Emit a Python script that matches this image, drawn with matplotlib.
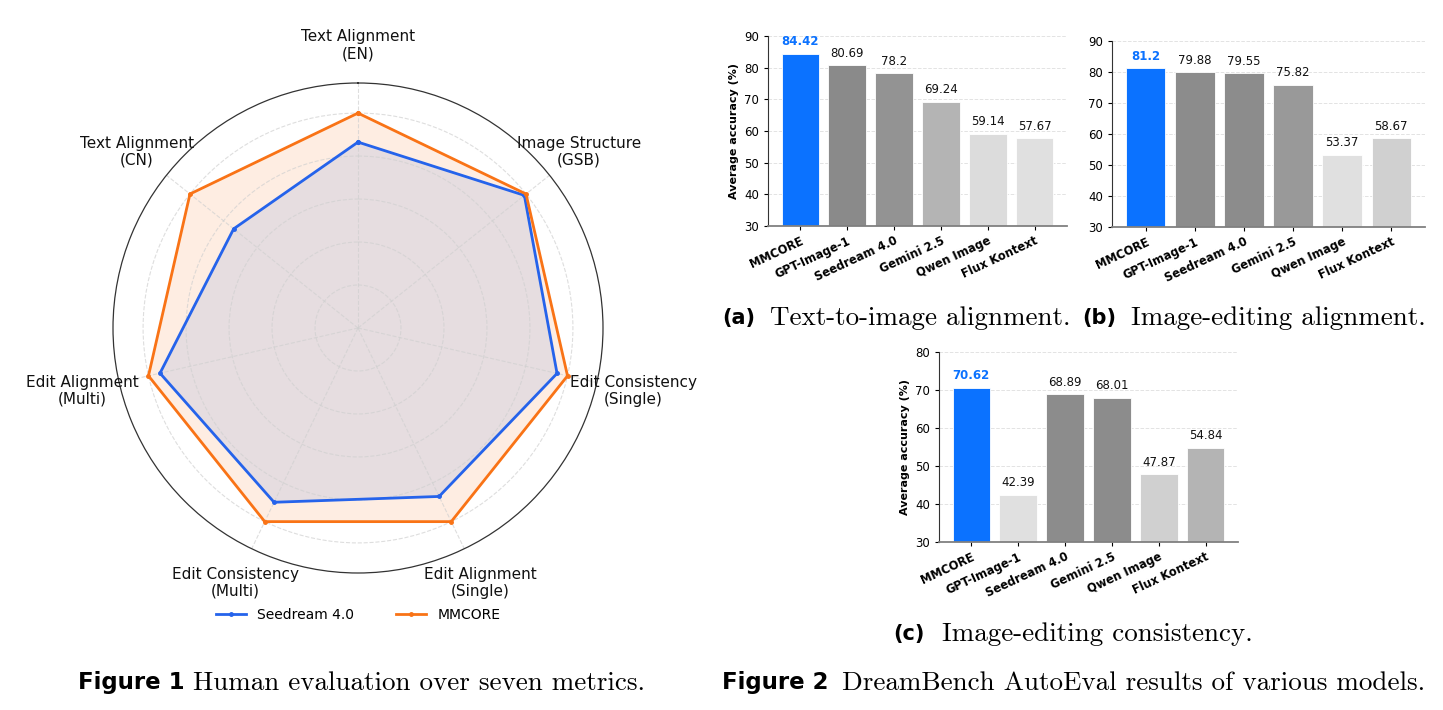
import matplotlib
matplotlib.use("Agg")
import matplotlib.pyplot as plt
import numpy as np

# radar data (normalised scores)
metrics = ["Text Alignment\n(EN)", "Image Structure\n(GSB)", "Edit Consistency\n(Single)",
           "Edit Alignment\n(Single)", "Edit Consistency\n(Multi)", "Edit Alignment\n(Multi)",
           "Text Alignment\n(CN)"]
seedream_scores = [0.865, 0.99, 0.95, 0.87, 0.90, 0.945, 0.74]
mmcore_scores = [1.0, 1.0, 1.0, 1.0, 1.0, 1.0, 1.0]

# bar data
models = ["MMCORE", "GPT-Image-1", "Seedream 4.0", "Gemini 2.5", "Qwen Image", "Flux Kontext"]
t2i_alignment = [84.42, 80.69, 78.2, 69.24, 59.14, 57.67]
edit_alignment = [81.2, 79.88, 79.55, 75.82, 53.37, 58.67]
edit_consistency = [70.62, 42.39, 68.89, 68.01, 47.87, 54.84]

# bar colours
blue = "#0b72ff"
colors_a = [blue, "#8a8a8a", "#939393", "#b4b4b4", "#dcdcdc", "#e0e0e0"]
colors_b = [blue, "#8c8c8c", "#8c8c8c", "#999999", "#e0e0e0", "#d0d0d0"]
colors_c = [blue, "#e0e0e0", "#8c8c8c", "#8c8c8c", "#d0d0d0", "#b4b4b4"]

W, H = 1443, 710
fig = plt.figure(figsize=(W / 100, H / 100), dpi=100)


def px_rect(left, top, right, bottom):
    return [left / W, 1 - bottom / H, (right - left) / W, (bottom - top) / H]


# ---------------- radar ----------------
cx, cy, R = 358, 328, 245
ax = fig.add_axes(px_rect(cx - R, cy - R, cx + R, cy + R), projection="polar")
ax.set_theta_zero_location("N")
ax.set_theta_direction(-1)
angles = np.linspace(0, 2 * np.pi, len(metrics), endpoint=False)
ang_closed = np.concatenate([angles, angles[:1]])

for vals, col, lab in [(seedream_scores, "#2563eb", "Seedream 4.0"),
                       (mmcore_scores, "#f97316", "MMCORE")]:
    v = np.concatenate([vals, vals[:1]])
    ax.plot(ang_closed, v, color=col, lw=2, marker="o", markersize=2.5, label=lab)
    ax.fill(ang_closed, v, color=col, alpha=0.12)

ax.set_ylim(0, 1.14)
ax.set_yticks([0.2, 0.4, 0.6, 0.8, 1.0])
ax.set_yticklabels([])
ax.set_xticks(angles)
ax.set_xticklabels([])
ax.tick_params(axis="x", length=0)
ax.grid(True, ls="--", color="#d0d0d0", lw=0.8, alpha=0.7)
ax.spines["polar"].set_color("#333333")
ax.spines["polar"].set_linewidth(0.9)
for a, m in zip(angles, metrics):
    ax.text(a, 1.315, m, ha="center", va="center", fontsize=11, color="#111111",
            linespacing=1.15)

fig.legend(loc="center", bbox_to_anchor=(cx / W, 1 - 615 / H), ncol=2, frameon=False,
           fontsize=10, handlelength=2.2, columnspacing=3)


# ---------------- bars ----------------
def bar_panel(rect, values, colors, ymax, ylabel):
    b = fig.add_axes(rect)
    x = np.arange(len(models))
    b.bar(x, values, width=0.8, color=colors, edgecolor="white", linewidth=0.6, zorder=2)
    b.set_ylim(30, ymax)
    b.set_yticks(np.arange(30, ymax + 1, 10))
    b.set_xticks(x)
    b.set_xticklabels(models, rotation=25, ha="right", rotation_mode="anchor",
                      fontsize=8.3, fontweight="bold")
    b.tick_params(axis="y", labelsize=8.5, length=3)
    b.tick_params(axis="x", length=3, pad=3)
    b.grid(axis="y", ls="--", color="#e3e3e3", lw=0.7, zorder=0)
    b.spines["top"].set_visible(False)
    b.spines["right"].set_visible(False)
    b.spines["left"].set_color("#333333")
    b.spines["left"].set_linewidth(0.8)
    b.spines["bottom"].set_color("#808080")
    b.spines["bottom"].set_linewidth(1.3)
    for i, v in enumerate(values):
        if i == 0:
            b.annotate(f"{v:g}", (i, v), xytext=(0, 4), textcoords="offset points",
                       ha="center", va="bottom", fontsize=8.5, fontweight="bold", color=blue)
        else:
            b.annotate(f"{v:g}", (i, v), xytext=(0, 4), textcoords="offset points",
                       ha="center", va="bottom", fontsize=8.5, color="#111111")
    if ylabel:
        b.set_ylabel("Average accuracy (%)", fontsize=8, fontweight="bold", labelpad=4)
    return b


bar_panel(px_rect(768, 36, 1067, 226), t2i_alignment, colors_a, 90, True)
bar_panel(px_rect(1112, 41, 1425, 227), edit_alignment, colors_b, 90, False)
bar_panel(px_rect(939, 352, 1238, 542), edit_consistency, colors_c, 80, True)


# ---------------- captions ----------------
def caption(x_bold, x_serif, y, bold, serif, bsize=16.5, ssize=19.5):
    fig.text(x_bold / W, 1 - y / H, bold, ha="left", va="center", fontsize=bsize,
             fontweight="bold", family="DejaVu Sans")
    fig.text(x_serif / W, 1 - y / H, serif, ha="left", va="center", fontsize=ssize,
             family="cmr10")


caption(722, 770, 318, "(a)", "Text-to-image alignment.", bsize=15)
caption(1082, 1131, 318, "(b)", "Image-editing alignment.", bsize=15)
caption(893, 942, 634, "(c)", "Image-editing consistency.", bsize=15)
caption(78, 193, 683, "Figure 1", "Human evaluation over seven metrics.")
caption(722, 842, 683, "Figure 2", "DreamBench AutoEval results of various models.")

fig.savefig("out.png", dpi=100)
